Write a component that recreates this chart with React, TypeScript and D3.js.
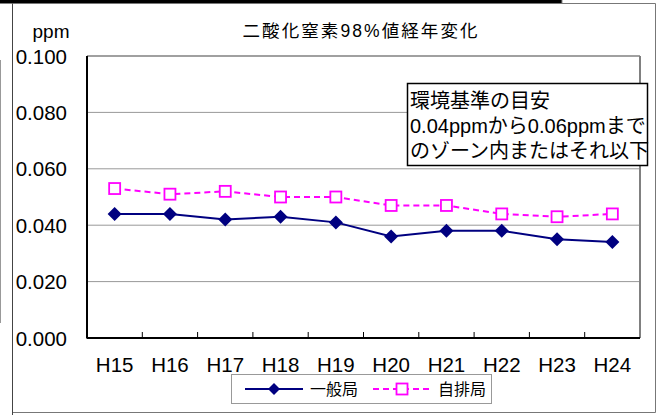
import * as d3 from 'd3';
import React from 'react';

const years = ['H15', 'H16', 'H17', 'H18', 'H19', 'H20', 'H21', 'H22', 'H23', 'H24'];
const ippan = [0.044, 0.044, 0.042, 0.043, 0.041, 0.036, 0.038, 0.038, 0.035, 0.034];
const jihai = [0.053, 0.051, 0.052, 0.05, 0.05, 0.047, 0.047, 0.044, 0.043, 0.044];
const yTicks = [0, 0.02, 0.04, 0.06, 0.08, 0.1];
const noteLines = ['環境基準の目安', '0.04ppmから0.06ppmまで', 'のゾーン内またはそれ以下'];

const FONT = '"Liberation Sans", Arial, "Noto Sans CJK JP", sans-serif';
const NAVY = '#000080';
const MAGENTA = '#ff00ff';

const W = 660;
const H = 415;
const plot = { left: 87, right: 640, top: 56, bottom: 338 };

const App: React.FC = () => {
  const x = d3.scaleBand<string>().domain(years).range([plot.left, plot.right]);
  const y = d3.scaleLinear().domain([0, 0.1]).range([plot.bottom, plot.top]);
  const cx = (d: string) => (x(d) ?? 0) + x.bandwidth() / 2;
  const fmt = d3.format('.3f');

  const line = d3
    .line<number>()
    .x((_, i) => cx(years[i]))
    .y(v => y(v));

  const diamond = (px: number, py: number, r = 7) =>
    `M${px},${py - r}L${px + r},${py}L${px},${py + r}L${px - r},${py}Z`;

  return (
    <svg
      width={W}
      height={H}
      style={{ position: 'absolute', left: 0, top: 0, background: '#fff' }}
      fontFamily={FONT}
    >
      {/* screenshot edges */}
      <rect x={0} y={0} width={562} height={3.5} fill="#000" />
      <line x1={562} y1={0} x2={562} y2={3.5} stroke="#888" />
      <line x1={0.5} y1={60} x2={0.5} y2={323} stroke="#999" />
      {/* chart frame */}
      <path d={`M12.5,415L12.5,3.5L655.5,3.5L655.5,412.5L12.5,412.5`} fill="none" stroke="#777" />
      <line x1={12.5} y1={3.5} x2={12.5} y2={415} stroke="#444" />

      {/* title */}
      <text x={242.5} y={36.5} fontSize={17.5} textLength={235} lengthAdjust="spacing" fill="#000">
        二酸化窒素98%値経年変化
      </text>

      {/* grid */}
      {yTicks
        .filter(t => t > 0 && t < 0.1)
        .map(t => (
          <line key={t} x1={plot.left} x2={plot.right} y1={y(t)} y2={y(t)} stroke="#999" strokeWidth={1} />
        ))}
      <line x1={plot.left} x2={plot.right} y1={y(0.1)} y2={y(0.1)} stroke="#808080" strokeWidth={1.5} />
      <line x1={plot.right} x2={plot.right} y1={plot.top} y2={plot.bottom} stroke="#808080" strokeWidth={2} />

      {/* axes */}
      <line x1={plot.left} x2={plot.left} y1={plot.top} y2={plot.bottom + 0.5} stroke="#000" strokeWidth={2} />
      <line x1={plot.left} x2={plot.right} y1={plot.bottom} y2={plot.bottom} stroke="#000" strokeWidth={2} />
      {years.slice(1).map(d => (
        <line key={d} x1={x(d)} x2={x(d)} y1={plot.bottom} y2={plot.bottom - 6} stroke="#000" strokeWidth={1} />
      ))}

      {/* y tick labels */}
      {yTicks.map(t => (
        <text key={t} x={67} y={y(t)} fontSize={20.5} textAnchor="end" dominantBaseline="central" fill="#000">
          {fmt(t)}
        </text>
      ))}
      <text x={51} y={38} fontSize={19} textAnchor="middle" fill="#000">
        ppm
      </text>

      {/* x labels */}
      {years.map(d => (
        <text key={d} x={cx(d)} y={364} fontSize={20.5} textAnchor="middle" dominantBaseline="central" fill="#000">
          {d}
        </text>
      ))}

      {/* 自排局 */}
      <path d={line(jihai) ?? ''} fill="none" stroke={MAGENTA} strokeWidth={2} strokeDasharray="6,4" />
      {jihai.map((v, i) => (
        <rect
          key={i}
          x={cx(years[i]) - 5.5}
          y={y(v) - 5.5}
          width={11}
          height={11}
          fill="#fff"
          stroke={MAGENTA}
          strokeWidth={1.8}
        />
      ))}

      {/* 一般局 */}
      <path d={line(ippan) ?? ''} fill="none" stroke={NAVY} strokeWidth={2} />
      {ippan.map((v, i) => (
        <path key={i} d={diamond(cx(years[i]), y(v))} fill={NAVY} />
      ))}

      {/* note box */}
      <rect x={407.5} y={83.5} width={240} height={82} fill="#fff" stroke="#000" strokeWidth={1.5} />
      {noteLines.map((s, i) => (
        <text key={i} x={410} y={108 + i * 25} fontSize={20} fill="#000">
          {s}
        </text>
      ))}

      {/* legend */}
      <rect x={231.5} y={374.5} width={260} height={29} fill="#fff" stroke="#999" />
      <line x1={245} x2={303} y1={389} y2={389} stroke={NAVY} strokeWidth={2} />
      <path d={diamond(274, 389, 6)} fill={NAVY} />
      <text x={310} y={389} fontSize={16} dominantBaseline="central" fill="#000">
        一般局
      </text>
      <line x1={373} x2={430} y1={389} y2={389} stroke={MAGENTA} strokeWidth={2} strokeDasharray="6,4" />
      <rect x={396.5} y={383.5} width={11} height={11} fill="#fff" stroke={MAGENTA} strokeWidth={1.8} />
      <text x={438} y={389} fontSize={16} dominantBaseline="central" fill="#000">
        自排局
      </text>
    </svg>
  );
};

export default App;
